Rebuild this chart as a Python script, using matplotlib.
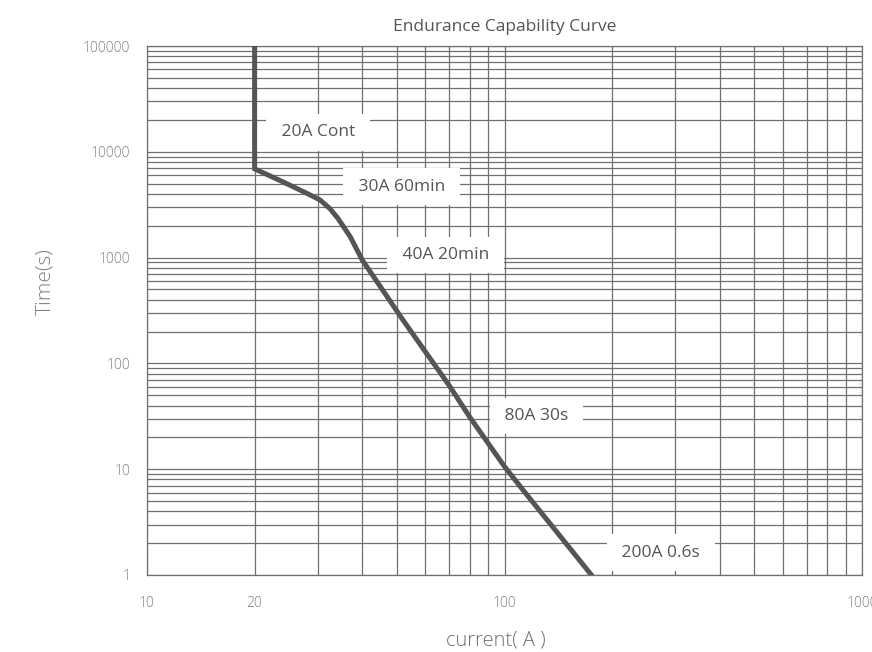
import matplotlib
matplotlib.use('Agg')
import matplotlib.pyplot as plt
from matplotlib.ticker import LogLocator, NullFormatter

plt.rcParams['font.family'] = ['Open Sans', 'DejaVu Sans']

# curve (current in A, time in s)
current = [20, 20, 24, 28, 30.5, 32.5, 34.2, 37, 40, 52, 70, 80, 90, 100, 112.5, 175]
time_s = [100000, 6900, 5200, 4050, 3500, 2900, 2350, 1580, 950, 257, 62, 31, 17.6, 10.6, 6.4, 1]

labels = ['20A Cont', '30A 60min', '40A 20min', '80A 30s', '200A 0.6s']
label_x = [30.1, 51.5, 68.4, 123, 274]
label_y = [15300, 4680, 1060, 31.8, 1.63]

x_ticks = [10, 20, 100, 1000]
y_ticks = [1, 10, 100, 1000, 10000, 100000]

grid_col = '#707070'
text_col = '#808080'

fig = plt.figure(figsize=(8.72, 6.52), dpi=100)
ax = fig.add_axes([147 / 872, 1 - 575 / 652, (862 - 147) / 872, (575 - 46) / 652])

ax.set_xscale('log')
ax.set_yscale('log')
ax.set_xlim(10, 1000)
ax.set_ylim(1, 100000)

ax.plot(current, time_s, color='#555555', lw=3.6, zorder=5, solid_joinstyle='miter')

for txt, lx, ly in zip(labels, label_x, label_y):
    ax.text(lx, ly, ' ' + txt + ' ', ha='center', va='center', fontsize=12.5,
            color='#555555', zorder=4,
            bbox=dict(boxstyle='square,pad=0.6', fc='white', ec='none'))

ax.set_xticks(x_ticks)
ax.set_xticklabels([str(v) for v in x_ticks])
ax.xaxis.set_minor_locator(LogLocator(base=10, subs=range(2, 10)))
ax.xaxis.set_minor_formatter(NullFormatter())
ax.set_yticks(y_ticks)
ax.set_yticklabels([str(v) for v in y_ticks])
ax.yaxis.set_minor_locator(LogLocator(base=10, subs=range(2, 10), numticks=20))
ax.yaxis.set_minor_formatter(NullFormatter())

ax.tick_params(which='both', length=0, labelsize=10, labelcolor=text_col)
ax.tick_params(axis='x', pad=15)
ax.tick_params(axis='y', pad=12)
for lab in ax.get_xticklabels() + ax.get_yticklabels():
    lab.set_fontweight('light')
ax.grid(True, which='both', color=grid_col, lw=0.9)
ax.set_axisbelow(True)
for s in ax.spines.values():
    s.set_color(grid_col)
    s.set_linewidth(0.9)

ax.set_title('Endurance Capability Curve', fontsize=12.5, color='#555555', pad=11)
ax.set_xlabel('current( A )', fontsize=14.5, color='#707070', fontweight='light')
ax.set_ylabel('Time(s)', fontsize=15, color=text_col, fontweight='light')
ax.xaxis.set_label_coords(0.4876, -0.104)
ax.yaxis.set_label_coords(-0.128, 0.554)

fig.savefig('out.png', dpi=100)
